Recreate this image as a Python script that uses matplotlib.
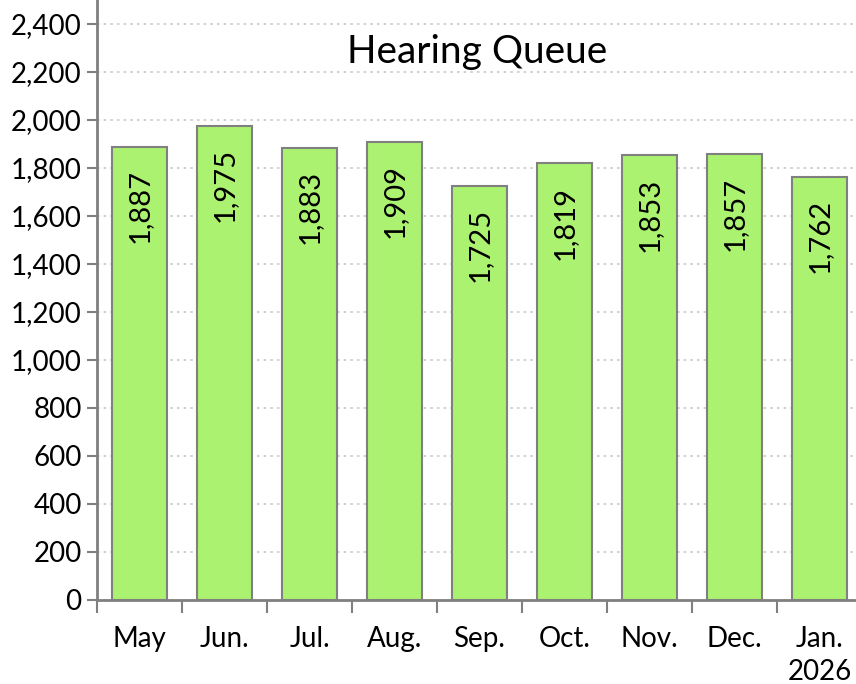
import matplotlib
matplotlib.use("Agg")
import matplotlib.pyplot as plt
import numpy as np

months = ["May", "Jun.", "Jul.", "Aug.", "Sep.", "Oct.", "Nov.", "Dec.", "Jan.\n2026"]
queue = [1887, 1975, 1883, 1909, 1725, 1819, 1853, 1857, 1762]
yticks = list(range(0, 2401, 200))

plt.rcParams['font.family'] = ['Lato', 'DejaVu Sans']

fig = plt.figure(figsize=(8.56, 6.84), dpi=100)
ax = fig.add_axes([97 / 856, 84 / 684, 765 / 856, 600 / 684])

x = np.arange(len(months))
ax.bar(x, queue, width=0.64, color="#abf270", edgecolor="#808080", linewidth=1.5, zorder=3)

for xi, v in zip(x, queue):
    ax.annotate(f"{v:,}", (xi, v), xytext=(0, -16), textcoords="offset points",
                rotation=90, ha="center", va="top", fontsize=21, zorder=4)

ax.set_xlim(-0.5, len(months) - 0.5)
ax.set_ylim(0, 2500)
ax.set_yticks(yticks)
ax.set_yticklabels([f"{t:,}" for t in yticks], fontsize=20)
ax.set_xticks(x)
ax.set_xticklabels(months, fontsize=20, linespacing=1.3)
ax.set_xticks(np.arange(len(months) + 1) - 0.5, minor=True)
ax.tick_params(axis="x", which="major", length=0, pad=19)
ax.tick_params(axis="x", which="minor", length=9, width=1.5, color="#808080", direction="out")
ax.tick_params(axis="y", length=7, width=1.5, color="#808080", direction="out", pad=4)

ax.grid(axis="y", linestyle=(0, (1.5, 2.5)), color="#c8c8c8", linewidth=1.2, zorder=0)
for side in ["top", "right"]:
    ax.spines[side].set_visible(False)
for side in ["left", "bottom"]:
    ax.spines[side].set_color("#808080")
    ax.spines[side].set_linewidth(2)

ax.text(0.497, 0.913, "Hearing Queue", transform=ax.transAxes, ha="center", va="center",
        fontsize=28)

fig.savefig("out.png", dpi=100)
